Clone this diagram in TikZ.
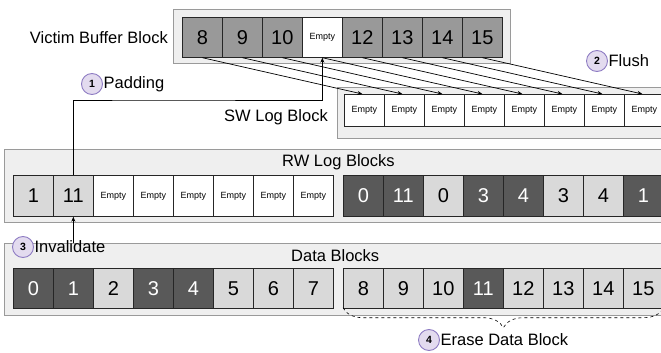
\documentclass[tikz,border=0pt]{standalone}
\usepackage{fontspec}
\setmainfont{Liberation Sans}
\usetikzlibrary{arrows.meta,decorations.pathreplacing}
\definecolor{framefill}{HTML}{EFEFEF}
\definecolor{frameline}{HTML}{9A9A9A}
\definecolor{midgray}{HTML}{999999}
\definecolor{lightgray}{HTML}{D9D9D9}
\definecolor{darkgray}{HTML}{595959}
\definecolor{badgefill}{HTML}{E3DBEF}
\definecolor{badgeline}{HTML}{8E7CC3}
\newcommand\celempty{{\fontsize{9}{10}\selectfont Empty}}
\begin{document}
\begin{tikzpicture}[x=1pt,y=-1pt,
  frame/.style={rectangle,draw=frameline,fill=framefill,line width=0.9pt,anchor=north west,inner sep=0pt},
  cell/.style={rectangle,draw=black!85,line width=0.7pt,anchor=north west,inner sep=0pt,minimum width=40pt},
  bigcell/.style={cell,font=\fontsize{20}{20}\selectfont},
  title/.style={font=\fontsize{16.5}{18}\selectfont,inner sep=0pt},
  badge/.style={circle,draw=badgeline,fill=badgefill,line width=0.9pt,minimum size=21pt,inner sep=0pt,font=\fontsize{10.5}{10.5}\selectfont\bfseries},
  link/.style={draw=black,line width=0.7pt,-{Stealth[length=5pt,width=4pt]}}
]
\path[use as bounding box] (0,0) rectangle (661,353);
\clip (0,0) rectangle (661,353);

% frames
\node[frame,minimum width=337pt,minimum height=54pt] (vframe) at (173,9) {};
\node[frame,minimum width=340pt,minimum height=51pt] (sframe) at (337,87) {};
\node[frame,minimum width=670pt,minimum height=73pt] (rframe) at (4,149) {};
\node[frame,minimum width=670pt,minimum height=72pt] (dframe) at (4,243) {};

% victim buffer block
\foreach \t/\f [count=\i] in {8/midgray,9/midgray,10/midgray,\celempty/white,12/midgray,13/midgray,14/midgray,15/midgray}
  \node[bigcell,minimum height=40pt,fill=\f] (v\i) at ({182+40*(\i-1)},17) {\t};
\node[title,anchor=east] (vlabel) at (168,38) {Victim Buffer Block};

% SW log block
\foreach \i in {1,...,8}
  \node[cell,minimum height=32pt,fill=white] (s\i) at ({344+40*(\i-1)},94) {\celempty};
\node[title,anchor=east] (slabel) at (328,117) {SW Log Block};

% RW log blocks
\node[title,anchor=west] (rlabel) at (282,162) {RW Log Blocks};
\foreach \t/\f [count=\i] in {1/lightgray,11/lightgray,\celempty/white,\celempty/white,\celempty/white,\celempty/white,\celempty/white,\celempty/white}
  \node[bigcell,minimum height=41pt,fill=\f] (ra\i) at ({13+40*(\i-1)},175) {\t};
\foreach \t/\f/\c [count=\i] in {0/darkgray/white,11/darkgray/white,0/lightgray/black,3/darkgray/white,4/darkgray/white,3/lightgray/black,4/lightgray/black,1/darkgray/white}
  \node[bigcell,minimum height=41pt,fill=\f,text=\c] (rb\i) at ({343+40*(\i-1)},175) {\t};

% data blocks
\node[title,anchor=west] (dlabel) at (291,256) {Data Blocks};
\foreach \t/\f/\c [count=\i] in {0/darkgray/white,1/darkgray/white,2/lightgray/black,3/darkgray/white,4/darkgray/white,5/lightgray/black,6/lightgray/black,7/lightgray/black}
  \node[bigcell,minimum height=40pt,fill=\f,text=\c] (da\i) at ({13+40*(\i-1)},268) {\t};
\foreach \t/\f/\c [count=\i] in {8/lightgray/black,9/lightgray/black,10/lightgray/black,11/darkgray/white,12/lightgray/black,13/lightgray/black,14/lightgray/black,15/lightgray/black}
  \node[bigcell,minimum height=40pt,fill=\f,text=\c] (db\i) at ({343+40*(\i-1)},268) {\t};

% flush: victim pages copied to the SW log block
\foreach \i in {1,...,8}
  \draw[link] (v\i.south) -- ([xshift=-2pt]s\i.north);

% padding: valid page from the RW log fills the empty slot
\coordinate (padturn) at (150,100);
\draw[link] (ra2.north) |- (padturn) -| (v4.south);

% invalidate
\draw[link] (ra2.south |- dframe.north) -- (ra2.south);

% erase brace
\draw[dashed,line width=0.6pt,decorate,decoration={brace,mirror,amplitude=20pt}]
  ([yshift=1pt]db1.south west) -- ([yshift=1pt]db8.south east);

% step badges
\node[badge] (b1) at (92,84) {1};
\node[title,anchor=west] (t1) at (b1.east) [xshift=0.5pt] {Padding};
\node[badge] (b2) at (597,61) {2};
\node[title,anchor=west] (t2) at (b2.east) [xshift=0.5pt] {Flush};
\node[badge] (b3) at (23,247) {3};
\node[title,anchor=west] (t3) at (b3.east) [xshift=0.5pt] {Invalidate};
\node[badge] (b4) at (429,340) {4};
\node[title,anchor=west] (t4) at (b4.east) [xshift=0.5pt] {Erase Data Block};
\end{tikzpicture}
\end{document}
